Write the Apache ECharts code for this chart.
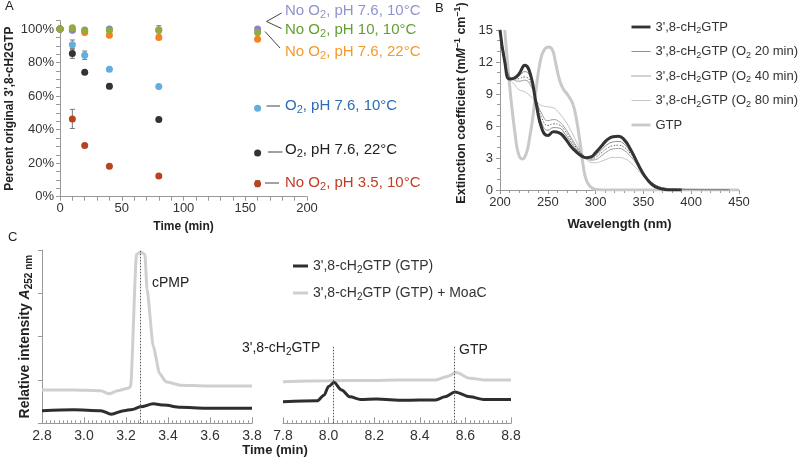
<!DOCTYPE html>
<html>
<head>
<meta charset="utf-8">
<script src="https://cdn.jsdelivr.net/npm/echarts@6/dist/echarts.min.js"></script>
<style>
html, body { margin: 0; padding: 0; background: #fff; }
#main { width: 800px; height: 469px; }
</style>
</head>
<body>
<div id="main"></div>
<script>
// ---- panel A: stability of 3',8-cH2GTP ----
const timeA = [0, 10, 20, 40, 80, 160];
const noO2_ph76_10C = [100, 99.5, 99.5, 100, 99.5, 100];
const noO2_ph10_10C = [100, 100.8, 99, 99.2, 99.5, 98];
const noO2_ph76_22C = [100, 99.3, 98, 96.3, 95, 94];
const o2_ph76_10C = [100, 90.7, 84.4, 76.1, 65.7, 52.7];
const o2_ph76_22C = [100, 85.5, 74.2, 65.9, 46, 26.1];
const noO2_ph35_10C = [100, 46.4, 30.6, 18.1, 12.3, 7.8];
const err_noO2_ph76_10C = [0, 0.5, 0.8, 0.8, 0, 0.5];
const err_noO2_ph10_10C = [0, 0.8, 0, 0, 2.5, 1.5];
const err_noO2_ph76_22C = [0, 0, 0, 0, 0, 0];
const err_o2_ph76_10C = [0, 2.8, 2.5, 0, 0, 1];
const err_o2_ph76_22C = [0, 3, 0, 1.5, 0, 0];
const err_noO2_ph35_10C = [0, 5.7, 1, 0, 0, 1.8];

// ---- panel B: UV-vis spectra ----
const waveB = [200, 205, 210, 215, 220, 226, 232, 238, 244, 250, 256, 262, 268, 274, 280, 286, 290, 295, 300, 306, 312, 318, 324, 330, 336, 342, 348, 354, 360, 366, 372, 380, 390, 400, 420, 440];
const spec0 = [15, 12.0, 10.4, 10.5, 10.9, 11.7, 10.8, 8.0, 5.7, 5.1, 5.45, 5.35, 4.85, 4.1, 3.55, 3.15, 3.03, 3.1, 3.5, 4.1, 4.7, 5.0, 5.05, 4.7, 3.9, 2.85, 1.8, 1.0, 0.45, 0.18, 0.05, 0, 0, null, null, null];
const spec20 = [15, 12.2, 10.6, 10.5, 10.7, 11.1, 10.5, 8.2, 6.2, 5.6, 5.85, 5.8, 5.25, 4.5, 3.8, 3.25, 3.05, 3.0, 3.25, 3.75, 4.25, 4.5, 4.55, 4.3, 3.65, 2.8, 1.85, 1.1, 0.6, 0.3, 0.15, 0.08, 0.05, 0.03, 0.02, 0.01];
const spec40 = [15, 12.3, 10.6, 10.4, 10.45, 10.6, 10.1, 8.3, 6.7, 6.05, 6.2, 6.1, 5.55, 4.75, 3.95, 3.3, 3.05, 2.9, 3.05, 3.5, 3.9, 4.15, 4.2, 4.0, 3.45, 2.7, 1.85, 1.1, 0.6, 0.32, 0.18, 0.1, 0.06, 0.04, 0.02, 0.01];
const spec60 = [15, 12.4, 10.6, 10.3, 10.2, 10.3, 9.8, 8.4, 7.1, 6.5, 6.6, 6.4, 5.8, 4.95, 4.1, 3.35, 3.0, 2.8, 2.85, 3.2, 3.6, 3.85, 3.9, 3.7, 3.2, 2.55, 1.75, 1.05, 0.6, 0.33, 0.18, 0.1, 0.07, 0.05, 0.03, 0.02];
const spec80 = [15, 12.5, 10.5, 9.9, 9.4, 9.2, 8.8, 8.3, 7.9, 7.8, 7.7, 7.2, 6.5, 5.6, 4.5, 3.4, 2.9, 2.6, 2.55, 2.7, 2.9, 3.05, 3.05, 2.95, 2.6, 2.1, 1.5, 0.95, 0.55, 0.3, 0.18, 0.12, 0.1, 0.08, 0.05, 0.03];
const waveGTP = [205, 208, 212, 216, 219, 223, 227, 231, 235, 238, 242, 246, 251, 255, 258, 262, 266, 271, 276, 280, 284, 287, 290, 294, 299, 308, 330, 380, 450];
const specGTP = [15, 11.8, 8.1, 5.1, 3.5, 2.9, 3.3, 4.9, 7.3, 9.6, 12.0, 13.1, 13.4, 13.1, 12.0, 10.4, 9.5, 8.9, 8.1, 6.6, 4.3, 2.3, 1.0, 0.35, 0.07, 0, 0, 0, 0];

// ---- panel C: HPLC traces ----
const timeC1Gtp = [2.8, 2.95, 3.08, 3.13, 3.19, 3.23, 3.27, 3.33, 3.38, 3.46, 3.58, 3.8];
const traceC1Gtp = [0.29, 0.31, 0.29, 0.21, 0.29, 0.32, 0.38, 0.45, 0.42, 0.37, 0.35, 0.35];
const timeC1Moac = [2.8, 2.95, 3.08, 3.12, 3.16, 3.21, 3.222, 3.25, 3.27, 3.29, 3.30, 3.33, 3.36, 3.39, 3.46, 3.58, 3.8];
const traceC1Moac = [0.77, 0.77, 0.75, 0.68, 0.75, 0.81, 0.85, 3.9, 3.95, 3.9, 3.1, 1.77, 1.15, 0.96, 0.88, 0.86, 0.86];
const timeC2Gtp = [7.8, 7.95, 7.98, 8.0, 8.024, 8.057, 8.094, 8.14, 8.21, 8.33, 8.47, 8.51, 8.554, 8.62, 8.68, 8.8];
const traceC2Gtp = [0.5, 0.52, 0.65, 0.85, 0.94, 0.77, 0.61, 0.55, 0.56, 0.53, 0.54, 0.61, 0.72, 0.61, 0.55, 0.55];
const timeC2Moac = [7.8, 8.0, 8.2, 8.3, 8.47, 8.52, 8.56, 8.62, 8.69, 8.8];
const traceC2Moac = [0.96, 0.98, 0.99, 1.0, 1.0, 1.08, 1.17, 1.04, 1.0, 1.0];
const peakC1 = [3.27];
const peakC2 = [8.02, 8.55];

const FF = 'Liberation Sans, Arial, Helvetica, sans-serif';
const pair = (xs, ys) => xs.map((x, i) => [x, ys[i]]);

// rich text styles (echarts 'color' or zrender 'fill')
function rich(fs, color, bold, key) {
  key = key || 'color';
  const w = bold ? 'bold' : 'normal';
  const sfs = Math.round(fs * 0.7);
  const mk = (o) => Object.assign({fontFamily: FF, fontWeight: w, [key]: color}, o);
  return {
    a: mk({fontSize: fs, lineHeight: fs + 4}),
    i: mk({fontSize: fs, lineHeight: fs + 4, fontStyle: 'italic'}),
    s: mk({fontSize: sfs, lineHeight: sfs, verticalAlign: 'bottom'}),
    u: mk({fontSize: sfs, lineHeight: sfs, verticalAlign: 'top'})
  };
}
const CH2 = "{a|3',8-cH}{s|2}{a|GTP}";

function errRender(params, api) {
  const x = api.value(0), y = api.value(1), e = api.value(2);
  if (!e) return null;
  const hi = api.coord([x, y + e]);
  const lo = api.coord([x, y - e]);
  const st = {stroke: '#777', lineWidth: 1};
  return {type: 'group', children: [
    {type: 'line', shape: {x1: hi[0], y1: hi[1], x2: lo[0], y2: lo[1]}, style: st},
    {type: 'line', shape: {x1: hi[0] - 2.5, y1: hi[1], x2: hi[0] + 2.5, y2: hi[1]}, style: st},
    {type: 'line', shape: {x1: lo[0] - 2.5, y1: lo[1], x2: lo[0] + 2.5, y2: lo[1]}, style: st}
  ]};
}

const groupsA = [
  [noO2_ph35_10C, err_noO2_ph35_10C, '#b8431f', 'No O2, pH 3.5, 10°C'],
  [o2_ph76_22C, err_o2_ph76_22C, '#333333', 'O2, pH 7.6, 22°C'],
  [o2_ph76_10C, err_o2_ph76_10C, '#63addf', 'O2, pH 7.6, 10°C'],
  [noO2_ph76_22C, err_noO2_ph76_22C, '#f5821f', 'No O2, pH 7.6, 22°C'],
  [noO2_ph76_10C, err_noO2_ph76_10C, '#8a86c6', 'No O2, pH 7.6, 10°C'],
  [noO2_ph10_10C, err_noO2_ph10_10C, '#8fac3c', 'No O2, pH 10, 10°C']
];

const series = [];
groupsA.forEach(g => {
  series.push({
    type: 'custom', name: g[3] + ' err', xAxisIndex: 0, yAxisIndex: 0,
    renderItem: errRender, encode: {x: 0, y: 1}, z: 2,
    data: timeA.map((t, i) => [t, g[0][i], g[1][i]])
  });
});
groupsA.forEach(g => {
  series.push({
    type: 'scatter', name: g[3], xAxisIndex: 0, yAxisIndex: 0, z: 3,
    symbolSize: 7, itemStyle: {color: g[2], opacity: 1},
    data: pair(timeA, g[0])
  });
});

const lineBase = {type: 'line', symbol: 'none', showSymbol: false, smooth: 0.5, connectNulls: false};
const nB0 = "3',8-cH2GTP", nB20 = "3',8-cH2GTP (O2 20 min)", nB40 = "3',8-cH2GTP (O2 40 min)", nB80 = "3',8-cH2GTP (O2 80 min)", nGTP = 'GTP';
series.push(Object.assign({}, lineBase, {name: nGTP, xAxisIndex: 1, yAxisIndex: 1, z: 2, lineStyle: {color: '#c9c9c9', width: 3}, itemStyle: {color: '#c9c9c9'}, data: pair(waveGTP, specGTP)}));
series.push(Object.assign({}, lineBase, {name: nB80, xAxisIndex: 1, yAxisIndex: 1, z: 3, lineStyle: {color: '#c2c2c2', width: 1}, itemStyle: {color: '#c2c2c2'}, data: pair(waveB, spec80)}));
series.push(Object.assign({}, lineBase, {name: 'O2 60 min', xAxisIndex: 1, yAxisIndex: 1, z: 3, lineStyle: {color: '#9a9a9a', width: 1}, itemStyle: {color: '#9a9a9a'}, data: pair(waveB, spec60)}));
series.push(Object.assign({}, lineBase, {name: nB40, xAxisIndex: 1, yAxisIndex: 1, z: 3, lineStyle: {color: '#666', width: 1, type: [1.5, 1.5]}, itemStyle: {color: '#666'}, data: pair(waveB, spec40)}));
series.push(Object.assign({}, lineBase, {name: nB20, xAxisIndex: 1, yAxisIndex: 1, z: 3, lineStyle: {color: '#888', width: 1}, itemStyle: {color: '#888'}, data: pair(waveB, spec20)}));
series.push(Object.assign({}, lineBase, {name: nB0, xAxisIndex: 1, yAxisIndex: 1, z: 4, lineStyle: {color: '#333', width: 3}, itemStyle: {color: '#333'}, data: pair(waveB, spec0)}));

const nC1 = "3',8-cH2GTP (GTP)", nC2 = "3',8-cH2GTP (GTP) + MoaC";
const peakLine = (xs, top) => ({
  symbol: ['none', 'none'], silent: true, label: {show: false},
  lineStyle: {color: '#555', width: 1, type: [1.5, 1.5]},
  data: xs.map(x => [{coord: [x, 0]}, {coord: [x, top]}])
});
const lineC = Object.assign({}, lineBase, {smooth: 0.3, smoothMonotone: 'x'});
series.push(Object.assign({}, lineC, {name: nC2, xAxisIndex: 2, yAxisIndex: 2, smooth: 0.2, lineStyle: {color: '#cfcfcf', width: 3}, itemStyle: {color: '#cfcfcf'}, data: pair(timeC1Moac, traceC1Moac)}));
series.push(Object.assign({}, lineC, {name: nC1, xAxisIndex: 2, yAxisIndex: 2, lineStyle: {color: '#2e2e2e', width: 3}, itemStyle: {color: '#2e2e2e'}, data: pair(timeC1Gtp, traceC1Gtp), markLine: peakLine(peakC1, 4)}));
series.push(Object.assign({}, lineC, {name: nC2, xAxisIndex: 3, yAxisIndex: 3, lineStyle: {color: '#cfcfcf', width: 3}, itemStyle: {color: '#cfcfcf'}, data: pair(timeC2Moac, traceC2Moac)}));
series.push(Object.assign({}, lineC, {name: nC1, xAxisIndex: 3, yAxisIndex: 3, lineStyle: {color: '#2e2e2e', width: 3}, itemStyle: {color: '#2e2e2e'}, data: pair(timeC2Gtp, traceC2Gtp), markLine: peakLine(peakC2, 1.8)}));

const axisGray = '#999';
const tickLbl = (fs) => ({color: '#333', fontSize: fs, fontFamily: FF});
function valAxis(o) {
  return Object.assign({
    type: 'value', splitLine: {show: false},
    axisLine: {show: true, lineStyle: {color: axisGray, width: 1}},
    axisTick: {show: true, length: 4, lineStyle: {color: axisGray}},
    nameLocation: 'middle'
  }, o);
}

const legendNames = {};
legendNames[nB0] = CH2;
legendNames[nB20] = CH2 + '{a| (O}{s|2}{a| 20 min)}';
legendNames[nB40] = CH2 + '{a| (O}{s|2}{a| 40 min)}';
legendNames[nB80] = CH2 + '{a| (O}{s|2}{a| 80 min)}';
legendNames[nGTP] = '{a|GTP}';
legendNames[nC1] = CH2 + '{a| (GTP)}';
legendNames[nC2] = CH2 + '{a| (GTP) + MoaC}';

// legend line icons as thin filled paths
const barIcon = (w, h) => 'path://M0,0H' + w + 'V' + h + 'H0Z';
let dots = '';
for (let i = 0; i < 20; i += 2) dots += 'M' + i + ',0H' + (i + 1.2) + 'V1.2H' + i + 'Z';
const dotIcon = 'path://' + dots;

const annA = [
  ['{a|No O}{s|2}{a|, pH 7.6, 10°C}', '#9093cc', 11],
  ['{a|No O}{s|2}{a|, pH 10, 10°C}', '#63a032', 29.5],
  ['{a|No O}{s|2}{a|, pH 7.6, 22°C}', '#f39a2b', 51.5],
  ['{a|O}{s|2}{a|, pH 7.6, 10°C}', '#2a6db5', 106],
  ['{a|O}{s|2}{a|, pH 7.6, 22°C}', '#222222', 150],
  ['{a|No O}{s|2}{a|, pH 3.5, 10°C}', '#c23c22', 183]
];
const leaderA = [[266.5, 21.5, 281.5, 13], [266.5, 21.5, 281.5, 28.5], [265, 31.5, 280, 48], [266.5, 106, 280, 106], [268, 152, 282.5, 152], [265, 183, 279, 183]];

const graphic = [];
annA.forEach(a => graphic.push({type: 'text', x: 285, y: a[2], style: {text: a[0], rich: rich(15, a[1], false, 'fill'), fill: a[1], verticalAlign: 'middle', align: 'left'}}));
leaderA.forEach(l => graphic.push({type: 'line', shape: {x1: l[0], y1: l[1], x2: l[2], y2: l[3]}, style: {stroke: '#444', lineWidth: 1}}));
const plain = (txt, x, y, fs, w) => ({type: 'text', x: x, y: y, style: {text: txt, font: (w || 'normal') + ' ' + fs + 'px ' + FF, fill: '#222', verticalAlign: 'middle', align: 'left'}});
graphic.push(plain('A', 5, 6, 13));
graphic.push(plain('B', 435, 8, 13));
graphic.push(plain('C', 8, 237, 13));
graphic.push(plain('cPMP', 152, 283, 14));
graphic.push({type: 'text', x: 242, y: 348, style: {text: CH2, rich: rich(14, '#222', false, 'fill'), fill: '#222', verticalAlign: 'middle'}});
graphic.push(plain('GTP', 459, 350, 14));
graphic.push({type: 'text', x: 275, y: 450, style: {text: 'Time (min)', font: 'bold 13px ' + FF, fill: '#222', align: 'center', verticalAlign: 'middle'}});

const option = {
  animation: false,
  backgroundColor: '#fff',
  grid: [
    {left: 60, top: 20.7, width: 247, height: 176, outerBoundsMode: 'none'},
    {left: 500, top: 30, width: 239, height: 160, outerBoundsMode: 'none'},
    {left: 42, top: 250, width: 210, height: 173.3, outerBoundsMode: 'none'},
    {left: 283, top: 250, width: 228, height: 173.3, outerBoundsMode: 'none'}
  ],
  xAxis: [
    valAxis({gridIndex: 0, min: 0, max: 200, interval: 50,
      minorTick: {show: true, splitNumber: 5, length: 4, lineStyle: {color: axisGray}},
      axisLabel: Object.assign(tickLbl(13), {margin: 5}),
      name: 'Time (min)', nameGap: 24, nameTextStyle: {fontWeight: 'bold', fontSize: 12, color: '#222', fontFamily: FF}}),
    valAxis({gridIndex: 1, min: 200, max: 450, interval: 50,
      minorTick: {show: true, splitNumber: 5, length: 3, lineStyle: {color: axisGray}},
      axisLabel: Object.assign(tickLbl(13), {margin: 6}),
      name: 'Wavelength (nm)', nameGap: 28, nameTextStyle: {fontWeight: 'bold', fontSize: 13, color: '#222', fontFamily: FF}}),
    valAxis({gridIndex: 2, min: 2.8, max: 3.8, interval: 0.2,
      axisTick: {show: true, inside: true, length: 6, lineStyle: {color: axisGray}},
      minorTick: {show: true, splitNumber: 10, length: 3, lineStyle: {color: axisGray}},
      axisLabel: Object.assign(tickLbl(14), {margin: 6, formatter: v => v.toFixed(1)})}),
    valAxis({gridIndex: 3, min: 7.8, max: 8.8, interval: 0.2,
      axisTick: {show: true, inside: true, length: 6, lineStyle: {color: axisGray}},
      minorTick: {show: true, splitNumber: 10, length: 3, lineStyle: {color: axisGray}},
      axisLabel: Object.assign(tickLbl(14), {margin: 6, formatter: v => v.toFixed(1)})})
  ],
  yAxis: [
    valAxis({gridIndex: 0, min: 0, max: 105, interval: 5,
      axisLabel: Object.assign(tickLbl(13), {margin: 6, interval: 0, formatter: v => (v % 20 === 0 ? v + '%' : '')}),
      name: "Percent original 3',8-cH2GTP", nameGap: 44, nameTextStyle: {fontWeight: 'bold', fontSize: 12, color: '#222', fontFamily: FF}}),
    valAxis({gridIndex: 1, min: 0, max: 15, interval: 3,
      minorTick: {show: true, splitNumber: 3, length: 3, lineStyle: {color: axisGray}},
      axisLabel: Object.assign(tickLbl(13), {margin: 7}),
      name: '{a|Extinction coefficient (m}{i|M}{u|–1}{a| cm}{u|–1}{a|)}', nameGap: 30,
      nameTextStyle: {rich: rich(12.5, '#222', true), padding: [0, 0, 0, 14]}}),
    valAxis({gridIndex: 2, min: 0, max: 4, interval: 1,
      axisLabel: {show: false},
      name: '{a|Relative intensity }{i|A}{s|252 nm}', nameGap: 8,
      nameTextStyle: {rich: rich(14, '#222', true)}}),
    valAxis({gridIndex: 3, min: 0, max: 4, interval: 1, show: false})
  ],
  legend: [
    {data: [
        {name: nB0, icon: barIcon(20, 3)},
        {name: nB20, icon: barIcon(20, 1)},
        {name: nB40, icon: dotIcon},
        {name: nB80, icon: barIcon(20, 1)},
        {name: nGTP, icon: barIcon(20, 3)}
      ], orient: 'vertical', left: 631.5, top: 20.5, padding: 0,
      itemWidth: 19, itemHeight: 12, itemGap: 9.5, selectedMode: false,
      formatter: n => legendNames[n], textStyle: {rich: rich(13, '#333', false)}},
    {data: [
        {name: nC1, icon: barIcon(15, 3)},
        {name: nC2, icon: barIcon(15, 3)}
      ], orient: 'vertical', left: 293, top: 259, padding: 0,
      itemWidth: 15, itemHeight: 12, itemGap: 11, selectedMode: false,
      formatter: n => legendNames[n], textStyle: {rich: rich(14, '#333', false)}}
  ],
  series: series,
  graphic: graphic
};

const chart = echarts.init(document.getElementById('main'), null, {renderer: 'canvas'});
chart.setOption(option);
</script>
</body>
</html>
